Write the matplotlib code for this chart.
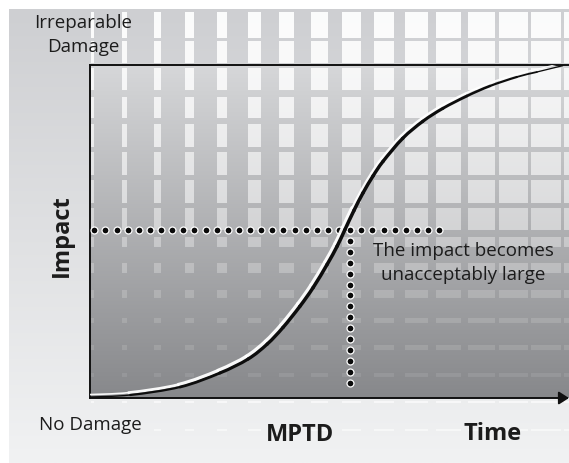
import numpy as np
import matplotlib
matplotlib.use("Agg")
import matplotlib.pyplot as plt
from matplotlib.collections import PatchCollection
from matplotlib.patches import Rectangle, PathPatch
from matplotlib.path import Path
import matplotlib.transforms as mtransforms

# ---------------- data ----------------
time_pts = [0, 8.4, 18.8, 27.1, 33.0, 37.0, 40.3, 43.8, 46.6, 49.5, 51.6, 53.2,
            55.1, 57.0, 59.1, 61.2, 65.3, 69.5, 73.7, 78.7, 83.5, 89.1, 93.3, 98.7]
impact_pts = [0.3, 0.9, 3.3, 7.5, 11.7, 16.2, 21.2, 27.5, 33.2, 40.1, 45.6, 50.5,
              56.3, 61.6, 66.7, 71.1, 78.0, 83.1, 87.0, 90.7, 93.7, 96.4, 97.9, 99.8]
mptd_time = 54.3          # time where impact becomes unacceptable
threshold_impact = 50.5   # unacceptable impact level
hline_start, hline_end = 0.9, 72.9
vline_end = 4.5
n_hdots, n_vdots = 32, 15

label_top = "Irreparable\nDamage"
label_bottom = "No Damage"
label_y = "Impact"
label_mptd = "MPTD"
label_x = "Time"
note = "The impact becomes\nunacceptably large"

# ---------------- figure ----------------
W, H = 569, 463
fig = plt.figure(figsize=(W / 100, H / 100), dpi=100)
fig.patch.set_facecolor("white")
FONT = "Open Sans"
TXT = "#1c1c1c"

bg = fig.add_axes([0, 0, 1, 1], zorder=0)
bg.set_xlim(0, W)
bg.set_ylim(H, 0)
bg.axis("off")

# plot box in pixels
px0, px1, py0, py1 = 90, 569, 65, 398


def vgrad(top, bottom, n=256):
    t = np.linspace(0, 1, n)[:, None]
    top = np.array(top) / 255.0
    bottom = np.array(bottom) / 255.0
    return (top + (bottom - top) * t)[:, None, :]


# outer gradient
bg.imshow(vgrad((206, 207, 210), (241, 242, 243)), extent=(9, W, H, 9),
          origin="upper", aspect="auto", interpolation="bilinear", zorder=0)
# plot-area gradient
bg.imshow(vgrad((214, 215, 217), (135, 136, 139)), extent=(px0, px1, py1, py0),
          origin="upper", aspect="auto", interpolation="bilinear", zorder=1)

# decorative grid of light squares
row_tops = [12, 41, 68, 97, 124, 152, 180, 208, 237, 263, 290, 318, 345, 373, 401, 429]
row_h = [26, 22, 22, 21, 23, 23, 23, 22, 10, 10, 8, 5, 5, 4, 2, 2]
row_a = [0.92, 0.88, 0.82, 0.75, 0.68, 0.6, 0.54, 0.46, 0.34, 0.26, 0.18, 0.14,
         0.12, 0.09, 0.6, 0.5]
for k in range(0, 17):
    cx = 60 + 32.4 * k
    w = min(max(0.062 * (cx - 50), 0.6), 29.5)
    for top, h, a in zip(row_tops, row_h, row_a):
        bg.add_patch(Rectangle((cx - w / 2, top), w, h, facecolor="white",
                               edgecolor="none", alpha=a, zorder=2))

# ---------------- main axes ----------------
ax = fig.add_axes([px0 / W, 1 - py1 / H, (px1 - px0) / W, (py1 - py0) / H], zorder=1)
ax.patch.set_alpha(0)
ax.set_xlim(0, 100)
ax.set_ylim(0, 100)
ax.set_xticks([])
ax.set_yticks([])
for s in ("right", "bottom"):
    ax.spines[s].set_visible(False)
for s in ("top", "left"):
    ax.spines[s].set_linewidth(1.4)
    ax.spines[s].set_color("#111111")
ax.annotate("", xy=(1.0, 0), xytext=(0, 0), xycoords="axes fraction",
            arrowprops=dict(arrowstyle="-|>,head_length=0.5,head_width=0.32",
                            color="#111111", lw=1.4, shrinkA=0, shrinkB=0,
                            mutation_scale=12),
            annotation_clip=False)

# dotted guide lines
hx = np.linspace(hline_start, hline_end, n_hdots)
ax.plot(hx, np.full_like(hx, threshold_impact), ls="none", marker="o",
        ms=5.0, mfc="#0a0a0a", mec="white", mew=0.9, zorder=3, clip_on=False)
vy = np.linspace(threshold_impact, vline_end, n_vdots)
ax.plot(np.full_like(vy, mptd_time), vy, ls="none", marker="o",
        ms=5.0, mfc="#0a0a0a", mec="white", mew=0.9, zorder=3)

# S-curve: smooth Bezier pieces through the read points, embossed look
pts = np.column_stack([time_pts, impact_pts]).astype(float)
n = len(pts)
ext = np.vstack([pts[0], pts, pts[-1]])
pieces = []
for i in range(n - 1):
    p0, p1, p2, p3 = ext[i], ext[i + 1], ext[i + 2], ext[i + 3]
    c1 = p1 + (p2 - p0) / 6.0
    c2 = p2 - (p3 - p1) / 6.0
    pieces.append(Path([p1, c1, c2, p2],
                       [Path.MOVETO, Path.CURVE4, Path.CURVE4, Path.CURVE4]))
tmid = (pts[:-1, 0] + pts[1:, 0]) / 200.0
lws = 0.45 + 2.1 * np.sin(np.pi * np.clip(tmid, 0, 1)) ** 0.7
# highlight (white, offset up-left), stronger in the lower part
hl_w = lws * np.where(tmid < 0.55, 1.25, 0.8)
hl_tr = mtransforms.offset_copy(ax.transData, fig=fig, x=-1.6, y=2.4, units="dots")
hl = PatchCollection([PathPatch(p) for p in pieces], facecolors="none",
                     edgecolors="white", linewidths=hl_w, alpha=0.95,
                     capstyle="round", joinstyle="round", transform=hl_tr, zorder=4)
ax.add_collection(hl)
ln = PatchCollection([PathPatch(p) for p in pieces], facecolors="none",
                     edgecolors="#0d0d0d", linewidths=lws,
                     capstyle="round", joinstyle="round", zorder=5)
ax.add_collection(ln)

# ---------------- text ----------------
bg.text(83, 35, label_top, ha="center", va="center", fontsize=13.5,
        family=FONT, color=TXT, linespacing=1.42, zorder=5)
bg.text(90, 425, label_bottom, ha="center", va="center", fontsize=13.5,
        family=FONT, color=TXT, zorder=5)
bg.text(62, 236, label_y, ha="center", va="center", fontsize=17, rotation=90,
        family=FONT, fontweight="bold", color=TXT, zorder=5)
bg.text(300, 435, label_mptd, ha="center", va="center", fontsize=17,
        family=FONT, fontweight="bold", color=TXT, zorder=5)
bg.text(493, 434, label_x, ha="center", va="center", fontsize=17,
        family=FONT, fontweight="bold", color=TXT, zorder=5)
bg.text(463, 263, note, ha="center", va="center", fontsize=13.5,
        family=FONT, color=TXT, linespacing=1.42, zorder=5)

fig.savefig("out.png", dpi=100)
